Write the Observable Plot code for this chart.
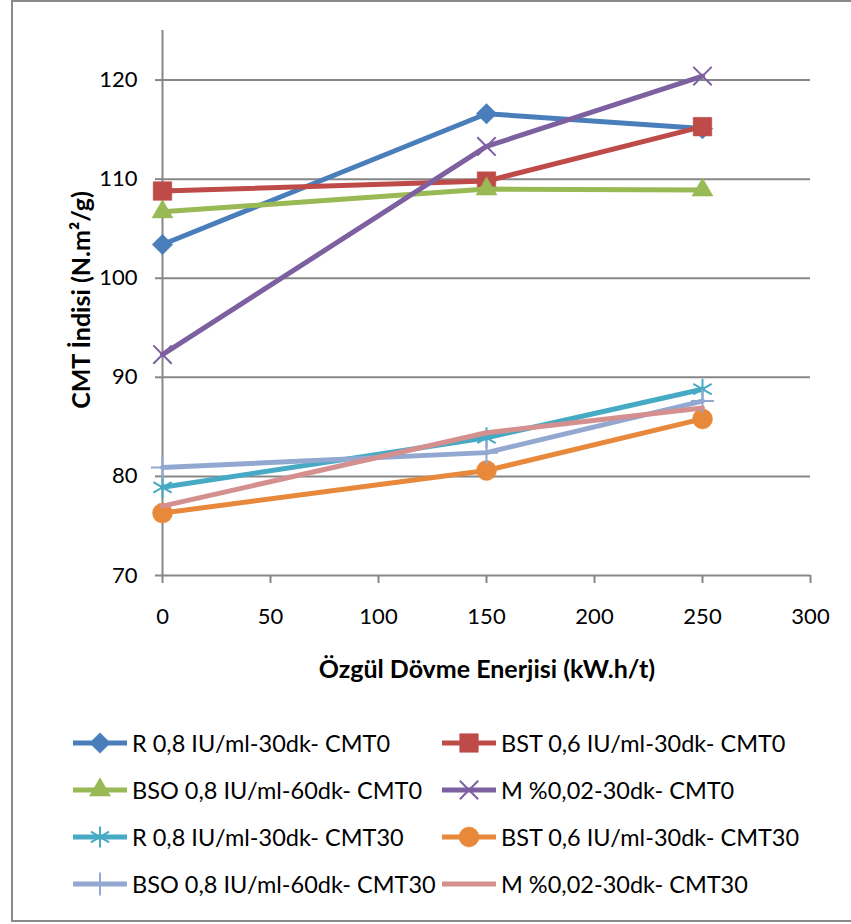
<!DOCTYPE html>
<html><head><meta charset="utf-8">
<script src="https://cdn.jsdelivr.net/npm/d3@7"></script>
<script src="https://cdn.jsdelivr.net/npm/@observablehq/plot@0.6"></script>
<style>
body{margin:0;background:#fff;}
#wrap{position:relative;width:851px;height:924px;overflow:hidden;font-family:Lato,"Open Sans",sans-serif;color:#000;}
#border{position:absolute;left:11px;top:0px;width:880px;height:922px;border:2px solid #8a8a8a;box-sizing:border-box;}
#chart{position:absolute;left:0;top:0;}
.title{position:absolute;font-weight:bold;font-size:25px;white-space:nowrap;}
#xt{left:487px;top:668px;transform:translate(-50%,-50%);}
#yt{left:80px;top:300px;transform:translate(-50%,-50%) rotate(-90deg);}
.leg{position:absolute;font-size:23.5px;white-space:nowrap;display:flex;align-items:center;}
.leg svg{margin-right:5px;}
</style></head>
<body><div id="wrap"><div id="border"></div><div id="chart"></div>
<div class="title" id="xt">Özgül Dövme Enerjisi (kW.h/t)</div>
<div class="title" id="yt">CMT İndisi (N.m²/g)</div>
</div>
<script>
const energy = [0, 150, 250];
const seriesNames = [
  "R 0,8 IU/ml-30dk- CMT0",
  "BST 0,6 IU/ml-30dk- CMT0",
  "BSO 0,8 IU/ml-60dk- CMT0",
  "M %0,02-30dk- CMT0",
  "R 0,8 IU/ml-30dk- CMT30",
  "BST 0,6 IU/ml-30dk- CMT30",
  "BSO 0,8 IU/ml-60dk- CMT30",
  "M %0,02-30dk- CMT30"
];
const rCMT0   = [103.4, 116.6, 115.1];
const bstCMT0 = [108.8, 109.8, 115.3];
const bsoCMT0 = [106.7, 109.0, 108.9];
const mCMT0   = [92.3, 113.3, 120.4];
const rCMT30  = [78.9, 83.9, 88.8];
const bstCMT30= [76.3, 80.6, 85.8];
const bsoCMT30= [80.9, 82.4, 87.6];
const mCMT30  = [77.0, 84.4, 86.9];
const xTicks = [0, 50, 100, 150, 200, 250, 300];
const yTicks = [70, 80, 90, 100, 110, 120];

const values = [rCMT0, bstCMT0, bsoCMT0, mCMT0, rCMT30, bstCMT30, bsoCMT30, mCMT30];
const colors = ["#4A7EBB","#BE4B48","#98B954","#7D60A0","#46AAC5","#E8883B","#92A8D1","#D3908F"];
const symbols = ["diamond2","square","triangle","times","asterisk","circle","plus",null];
const radii = [9.3, 10.5, 7.8, 8.4, 10, 10, 7.5, 0];

const data = [];
seriesNames.forEach((s, i) => energy.forEach((e, j) => data.push({s, i, e, v: values[i][j]})));

const gray = "#878787";
const marks = [
  Plot.ruleY(yTicks.filter(d => d > 70), {stroke: gray, strokeWidth: 2}),
  Plot.axisX({ticks: xTicks, tickSize: 8, tickPadding: 25, stroke: gray, strokeWidth: 2, label: null, fill: "#000"}),
  Plot.axisY({ticks: yTicks, tickSize: 7, tickPadding: 18, stroke: gray, strokeWidth: 2, label: null, fill: "#000"}),
  Plot.ruleX([0], {y1: 70, y2: 125, stroke: gray, strokeWidth: 2}),
  Plot.ruleY([70], {x1: 0, x2: 300, stroke: gray, strokeWidth: 2})
];
seriesNames.forEach((s, i) => {
  const d = data.filter(r => r.i === i);
  marks.push(Plot.line(d, {x: "e", y: "v", stroke: colors[i], strokeWidth: 5}));
  if (symbols[i]) {
    const stroked = ["times","asterisk","plus"].includes(symbols[i]);
    marks.push(Plot.dot(d, {x: "e", y: "v", symbol: symbols[i], r: radii[i],
      fill: stroked ? "none" : colors[i], stroke: colors[i], strokeWidth: stroked ? 2 : 0.5}));
  }
});

const chart = Plot.plot({
  width: 851, height: 924,
  marginLeft: 162, marginRight: 41, marginTop: 30, marginBottom: 349,
  style: {fontFamily: 'Lato,"Open Sans",sans-serif', fontSize: "22px", color: "#000", background: "transparent", overflow: "visible"},
  x: {domain: [0, 300]},
  y: {domain: [70, 125]},
  marks
});
document.getElementById("chart").appendChild(chart);

// legend
const wrap = document.getElementById("wrap");
const rowY = [743, 790, 837, 884];
const colX = [73, 442];
seriesNames.forEach((s, i) => {
  const row = Math.floor(i / 2), col = i % 2;
  const div = document.createElement("div");
  div.className = "leg";
  div.style.left = colX[col] + "px";
  div.style.top = (rowY[row] - 15) + "px";
  div.style.height = "30px";
  const svg = d3.create("svg").attr("width", 54).attr("height", 30);
  svg.append("line").attr("x1", 0).attr("x2", 54).attr("y1", 15).attr("y2", 15)
    .attr("stroke", colors[i]).attr("stroke-width", 5).attr("stroke-linecap", "round");
  if (symbols[i]) {
    const map = {diamond2: d3.symbolDiamond2, square: d3.symbolSquare, triangle: d3.symbolTriangle,
      times: d3.symbolTimes, asterisk: d3.symbolAsterisk, circle: d3.symbolCircle, plus: d3.symbolPlus};
    const stroked = ["times","asterisk","plus"].includes(symbols[i]);
    svg.append("path").attr("transform", "translate(27,15)")
      .attr("d", d3.symbol(map[symbols[i]], Math.PI * radii[i] * radii[i])())
      .attr("fill", stroked ? "none" : colors[i]).attr("stroke", colors[i]).attr("stroke-width", stroked ? 2 : 0.5);
  }
  div.appendChild(svg.node());
  const span = document.createElement("span");
  span.textContent = s;
  div.appendChild(span);
  wrap.appendChild(div);
});
</script></body></html>
